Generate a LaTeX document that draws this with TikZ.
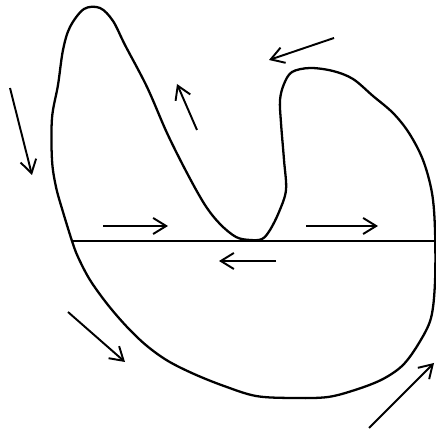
\documentclass[tikz,border=0pt]{standalone}
\usepackage{tikz}
\usetikzlibrary{arrows.meta}

\begin{document}
\begin{tikzpicture}[x=0.01cm, y=-0.01cm,
  loopline/.style={line width=0.65pt, line join=round},
  baseline/.style={line width=0.75pt},
  flow/.style={-{Straight Barb[length=1.3mm,width=1.6mm]}, line width=0.55pt}]
\useasboundingbox[fill=white] (0,0) rectangle (436,431);
% closed loop: left lobe, valley on the line, right lobe, bottom bowl
\draw[loopline] plot[smooth cycle, tension=0.55] coordinates {
  (72,241) (63,212) (56,187) (52,160) (52,118) (58,85) (63,50) (70,27)
  (84,9) (100,8) (113,21) (125,45) (147,87) (167,133) (187,173) (205,205)
  (220,224) (236,237) (250,240) (262,239) (270,230) (279,212) (286,190)
  (284,160) (281,123) (280,100) (284,84) (292,72) (310,68) (333,71)
  (353,79) (373,96) (393,113) (409,133) (423,160) (432,193) (435,230)
  (435,282) (431,318) (419,343) (403,365) (383,379) (358,389) (328,397)
  (292,398) (256,396) (224,386) (194,374) (168,361) (147,346) (128,328)
  (108,305) (90,280) (78,257)};
\draw[baseline] (72,241) -- (436,241);
% flow arrows
\draw[flow] (10,88) -- (32,175);
\draw[flow] (197,130) -- (177,84);
\draw[flow] (334,38) -- (269,60);
\draw[flow] (103,226) -- (168,226);
\draw[flow] (306,226) -- (378,226);
\draw[flow] (276,261) -- (219,261);
\draw[flow] (68,312) -- (125,362);
\draw[flow] (369,428) -- (434,363);
\end{tikzpicture}
\end{document}
